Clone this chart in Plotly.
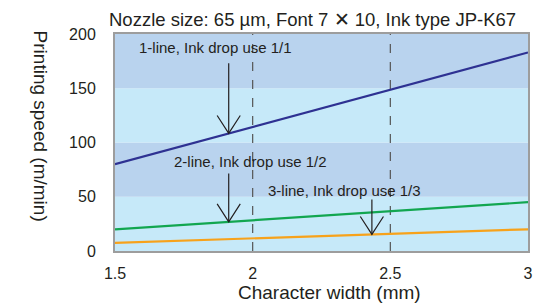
import numpy as np
import plotly.graph_objects as go

# ---- data ----
char_width = [1.5, 3.0]
speed_1line = [80, 183]
speed_2line = [20, 45]
speed_3line = [7.5, 20]
series_names = ["1-line, Ink drop use 1/1", "2-line, Ink drop use 1/2", "3-line, Ink drop use 1/3"]
series_colors = ["#2e3192", "#12a650", "#f7a21b"]
x_ticks = [1.5, 2, 2.5, 3]
x_ticklabels = ["1.5", "2", "2.5", "3"]
y_ticks = [0, 50, 100, 150, 200]
band_edges = [0, 50, 100, 150, 200]
ref_lines = [2.0, 2.5]
arrow_x = [1.913, 1.913, 2.433]
arrow_tail_y = [174.5, 72.8, 48.8]
label_pos = [(1.579, 188), (1.708, 82.3), (2.049, 56.2)]

FONT = "Liberation Sans, Arial, sans-serif"
TXT = "#231f20"
L, T, PW, PH = 115, 34, 418, 217  # plot area in px

fig = go.Figure()
series = [speed_1line, speed_2line, speed_3line]
for name, vals, col in zip(series_names, series, series_colors):
    fig.add_trace(go.Scatter(x=char_width, y=vals, mode="lines", name=name,
                             line=dict(color=col, width=2.2), showlegend=False,
                             hoverinfo="skip"))

shapes = []
band_cols = ["#c6e9f9", "#b9d3ee"]
for i in range(len(band_edges) - 1):
    shapes.append(dict(type="rect", xref="x", yref="y", x0=char_width[0], x1=char_width[-1],
                       y0=band_edges[i], y1=band_edges[i + 1], fillcolor=band_cols[i % 2],
                       line=dict(width=0), layer="below"))
for xv in ref_lines:
    shapes.append(dict(type="line", xref="x", yref="y", x0=xv, x1=xv, y0=band_edges[0],
                       y1=band_edges[-1], line=dict(color="#555555", width=1.2, dash="dash"),
                       layer="below"))

annotations = []
dx, dy = 0.042, 16.5
for i in range(3):
    tx = arrow_x[i]
    ty = float(np.interp(tx, char_width, series[i]))
    annotations.append(dict(x=tx, y=ty, ax=tx, ay=arrow_tail_y[i], xref="x", yref="y",
                            axref="x", ayref="y", text="", showarrow=True, arrowhead=0,
                            arrowwidth=1.2, arrowcolor=TXT))
    fig.add_trace(go.Scatter(x=[tx - dx, tx, tx + dx], y=[ty + dy, ty, ty + dy], mode="lines",
                             line=dict(color=TXT, width=1.2), showlegend=False, hoverinfo="skip"))
    lx, ly = label_pos[i]
    annotations.append(dict(x=lx, y=ly, xref="x", yref="y", text=series_names[i],
                            showarrow=False, xanchor="left", yanchor="middle",
                            font=dict(family=FONT, size=15, color=TXT)))


def px(xp):
    return (xp - L) / PW


def py(yp):
    return (T + PH - yp) / PH


annotations.append(dict(x=px(315), y=py(19.5), xref="paper", yref="paper",
                        text="Nozzle size: 65 \u00b5m, Font 7 \u2715 10, Ink type JP-K67",
                        showarrow=False, xanchor="center", yanchor="middle",
                        font=dict(family=FONT, size=18.5, color=TXT)))
annotations.append(dict(x=px(332.5), y=py(292), xref="paper", yref="paper",
                        text="Character width (mm)", showarrow=False, xanchor="center",
                        yanchor="middle", font=dict(family=FONT, size=19, color=TXT)))
annotations.append(dict(x=px(40), y=py(126.5), xref="paper", yref="paper",
                        text="Printing speed (m/min)", showarrow=False, textangle=90,
                        xanchor="center", yanchor="middle",
                        font=dict(family=FONT, size=19, color=TXT)))

fig.update_layout(
    width=540, height=304,
    margin=dict(l=L, r=540 - L - PW, t=T, b=304 - T - PH),
    paper_bgcolor="white", plot_bgcolor="white",
    shapes=shapes, annotations=annotations,
    xaxis=dict(range=[char_width[0], char_width[-1]], tickvals=x_ticks, ticktext=x_ticklabels,
               showgrid=False, zeroline=False, showline=True, mirror=True,
               linecolor="#9d9d9d", linewidth=2, ticks="outside", ticklen=7,
               tickcolor="rgba(0,0,0,0)", tickfont=dict(family=FONT, size=16, color=TXT)),
    yaxis=dict(range=[band_edges[0], band_edges[-1]], tickvals=y_ticks,
               showgrid=False, zeroline=False, showline=True, mirror=True,
               linecolor="#9d9d9d", linewidth=2, ticks="outside", ticklen=14,
               tickcolor="rgba(0,0,0,0)", tickfont=dict(family=FONT, size=16, color=TXT)),
)

fig.write_html("out.html", config={"displayModeBar": False},
               post_script="document.body.style.margin='0';document.body.style.overflow='hidden';")
